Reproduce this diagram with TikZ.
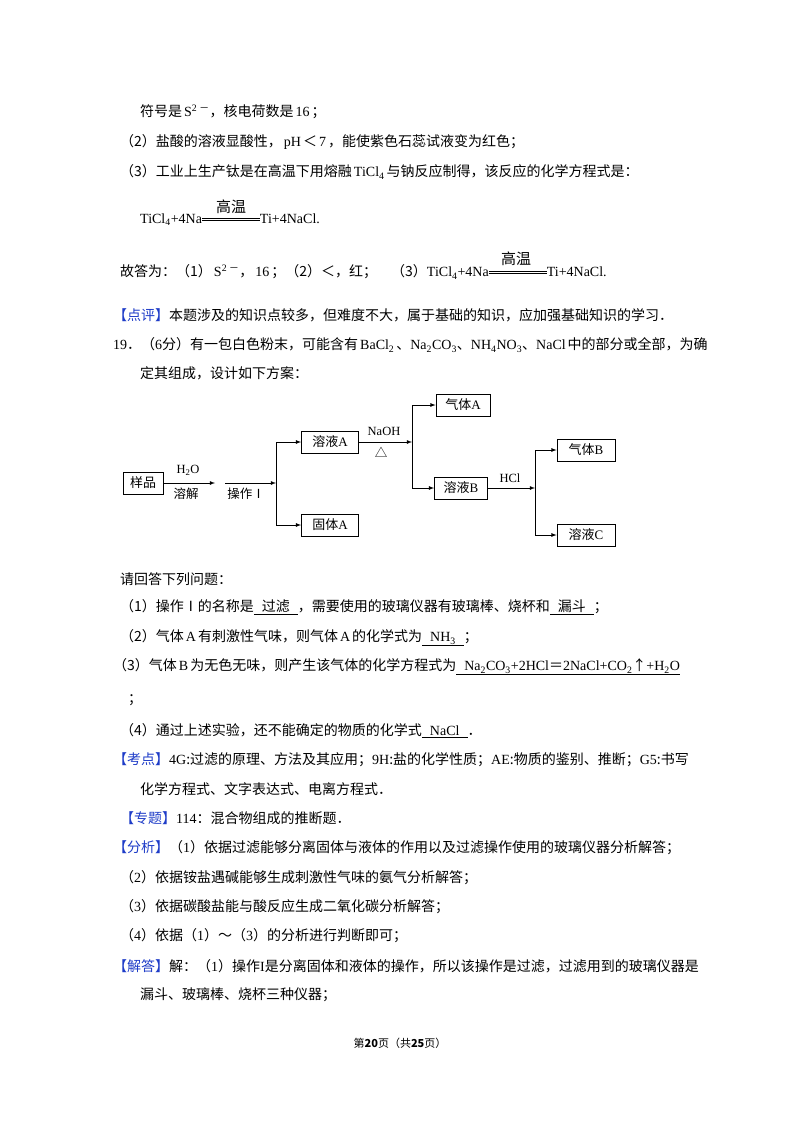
\documentclass[tikz,border=0pt]{standalone}
\usepackage{fontspec}
\setmainfont{Noto Sans CJK SC}
\newfontfamily\en{Liberation Serif}
\newcommand{\E}[1]{\hspace{2pt}{\en #1}\hspace{2pt}}
\newcommand{\F}[1]{{\en #1}}
\newcommand{\sub}[1]{\textsubscript{\en #1}}
\newcommand{\ul}[1]{\underline{\hspace{8pt}#1\hspace{8pt}}}
\definecolor{kb}{RGB}{30,60,200}
\begin{document}
\begin{tikzpicture}[x=1pt,y=-1pt,
  t/.style={anchor=west,inner sep=0pt,font=\fontsize{14}{16}\selectfont},
  bx/.style={draw,line width=0.8pt,minimum height=22pt,inner sep=2pt,font=\fontsize{13}{14}\selectfont},
  ar/.style={-latex,line width=0.8pt},
  ln/.style={line width=0.8pt},
  lb/.style={inner sep=1pt,font=\fontsize{12.5}{14}\selectfont}]
\useasboundingbox (0,0) rectangle (800,1132);
\fill[white] (0,0) rectangle (800,1132);
\node[t] (l1) at (140,112) {符号是\E{S\textsuperscript{2}}\textsuperscript{－}，核电荷数是\E{16}；};
\node[t] (l2) at (120,142) {（2）盐酸的溶液显酸性，\E{pH}＜\E{7}，能使紫色石蕊试液变为红色；};
\node[t] (l3) at (120,172) {（3）工业上生产钛是在高温下用熔融\E{TiCl\textsubscript{4}}与钠反应制得，该反应的化学方程式是：};
\node[t] (l4) at (140,220) {\F{TiCl}\sub{4}\F{+4Na}\rule[3pt]{58pt}{0.6pt}\hspace{-58pt}\rule[5pt]{58pt}{0.6pt}\F{Ti+4NaCl.}};
\node[lb,font=\fontsize{15}{16}\selectfont] (g1) at (231,207) {高温};
\node[t] (l5) at (120,272) {故答为：（1）\E{S\textsuperscript{2}}\textsuperscript{－}，\E{16}；（2）＜，红；\quad（3）\F{TiCl}\sub{4}\F{+4Na}\rule[3pt]{58pt}{0.6pt}\hspace{-58pt}\rule[5pt]{58pt}{0.6pt}\F{Ti+4NaCl.}};
\node[lb,font=\fontsize{15}{16}\selectfont] (g2) at (516,259) {高温};
\node[t] (l6) at (113,315) {\textcolor{kb}{【点评】}本题涉及的知识点较多，但难度不大，属于基础的知识，应加强基础知识的学习．};
\node[t] (l7) at (113,345) {\F{19}．（\F{6}分）有一包白色粉末，可能含有\E{BaCl\textsubscript{2}}、\F{Na\textsubscript{2}CO\textsubscript{3}}、\F{NH\textsubscript{4}NO\textsubscript{3}}、\F{NaCl}\hspace{2pt}中的部分或全部，为确};
\node[t] (l8) at (140,373) {定其组成，设计如下方案：};
% flowchart
\node[bx,minimum width=40pt] (yp) at (143,483) {样品};
\node[bx,minimum width=57pt] (ra) at (330,442) {溶液\F{A}};
\node[bx,minimum width=57pt] (ga) at (330,525) {固体\F{A}};
\node[bx,minimum width=54pt] (qa) at (463,405) {气体\F{A}};
\node[bx,minimum width=53pt] (rb) at (461,488) {溶液\F{B}};
\node[bx,minimum width=58pt] (qb) at (586,450) {气体\F{B}};
\node[bx,minimum width=58pt] (rc) at (586,535) {溶液\F{C}};
\coordinate (a1) at (215,483);
\coordinate (s2) at (225,483);
\coordinate (j1) at (276,483);
\coordinate (j1t) at (276,442);
\coordinate (j1b) at (276,525);
\coordinate (j2) at (412,442);
\coordinate (j2t) at (412,405);
\coordinate (j2b) at (412,488);
\coordinate (j3) at (535,488);
\coordinate (j3t) at (535,450);
\coordinate (j3b) at (535,535);
\draw[ar] (yp.east) -- (a1);
\node[lb] (h2o) at (188,470) {\F{H\textsubscript{2}O}};
\node[lb] (rj) at (186,494) {溶解};
\draw[ar] (s2) -- (j1);
\node[lb] (cz) at (246,494) {操作Ⅰ};
\draw[ln] (j1t) -- (j1b);
\draw[ar] (j1t) -- (ra.west);
\draw[ar] (j1b) -- (ga.west);
\draw[ar] (ra.east) -- (j2);
\node[lb] (naoh) at (384,431) {\F{NaOH}};
\node[lb] (dl) at (381,452) {△};
\draw[ln] (j2t) -- (j2b);
\draw[ar] (j2t) -- (qa.west);
\draw[ar] (j2b) -- (rb.west);
\draw[ar] (rb.east) -- (j3);
\node[lb] (hcl) at (510,478) {\F{HCl}};
\draw[ln] (j3t) -- (j3b);
\draw[ar] (j3t) -- (qb.west);
\draw[ar] (j3b) -- (rc.west);
% questions
\node[t] (q0) at (120,579) {请回答下列问题：};
\node[t] (q1) at (120,607) {（1）操作Ⅰ的名称是\ul{过滤}，需要使用的玻璃仪器有玻璃棒、烧杯和\ul{漏斗}；};
\node[t] (q2) at (120,638) {（2）气体\E{A}有刺激性气味，则气体\E{A}的化学式为\ul{\F{NH}\sub{3}}；};
\node[t] (q3) at (113,667) {（3）气体\E{B}为无色无味，则产生该气体的化学方程式为\underline{\hspace{8pt}\F{Na}\sub{2}\F{CO}\sub{3}\F{+2HCl}＝\F{2NaCl+CO}\sub{2}↑\F{+H}\sub{2}\F{O}}};
\node[t] (q3b) at (128,700) {；};
\node[t] (q4) at (120,731) {（4）通过上述实验，还不能确定的物质的化学式\ul{\F{NaCl}}．};
\node[t] (k1) at (113,760) {\textcolor{kb}{【考点】}\F{4G}:过滤的原理、方法及其应用；\F{9H}:盐的化学性质；\F{AE}:物质的鉴别、推断；\F{G5}:书写};
\node[t] (k2) at (140,789) {化学方程式、文字表达式、电离方程式．};
\node[t] (z1) at (120,818) {\textcolor{kb}{【专题】}\F{114}：混合物组成的推断题．};
\node[t] (f1) at (113,848) {\textcolor{kb}{【分析】}（\F{1}）依据过滤能够分离固体与液体的作用以及过滤操作使用的玻璃仪器分析解答；};
\node[t] (f2) at (120,878) {（\F{2}）依据铵盐遇碱能够生成刺激性气味的氨气分析解答；};
\node[t] (f3) at (120,907) {（\F{3}）依据碳酸盐能与酸反应生成二氧化碳分析解答；};
\node[t] (f4) at (120,936) {（\F{4}）依据（\F{1}）～（\F{3}）的分析进行判断即可；};
\node[t] (j1x) at (113,966) {\textcolor{kb}{【解答】}解：（\F{1}）操作\F{I}是分离固体和液体的操作，所以该操作是过滤，过滤用到的玻璃仪器是};
\node[t] (j2x) at (140,995) {漏斗、玻璃棒、烧杯三种仪器；};
\node[inner sep=0pt,font=\fontsize{11}{13}\selectfont] (pg) at (400,1043) {第\textbf{20}页（共\textbf{25}页）};
\end{tikzpicture}
\end{document}
